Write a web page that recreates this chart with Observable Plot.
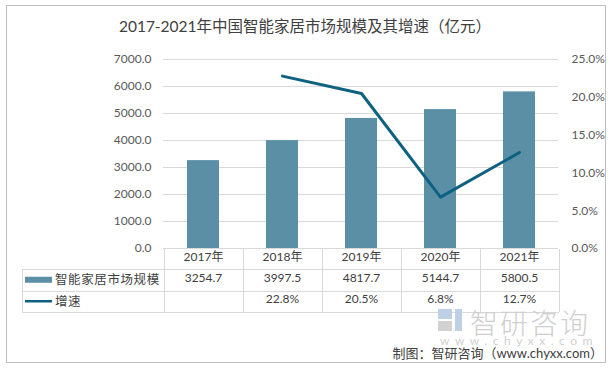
<!DOCTYPE html>
<html><head><meta charset="utf-8">
<script src="https://cdn.jsdelivr.net/npm/d3@7"></script>
<script src="https://cdn.jsdelivr.net/npm/@observablehq/plot@0.6"></script>
<style>
body{margin:0;background:#fff}
#wrap{position:relative;width:610px;height:369px;overflow:hidden;font-family:Lato,"Noto Sans CJK SC",sans-serif}
#frame{position:absolute;left:6px;top:5px;width:600px;height:358px;border:1px solid #bfbfbf;box-sizing:border-box}
#title{position:absolute;top:16px;left:0;width:610px;text-align:center;font-size:15.5px;color:#404040;line-height:20px}
#chart{position:absolute;left:0;top:0}
#wm{position:absolute;left:470px;top:309px;font-size:28px;color:#cfcfcf;font-family:"Noto Sans CJK SC",sans-serif;letter-spacing:2px;line-height:26px;font-weight:300}
#wmurl{position:absolute;left:440px;top:336px;font-size:12px;color:#d0d0d0;letter-spacing:5.5px;line-height:9px}
#logo1{position:absolute;left:438px;top:309px;width:14px;height:10px;background:#bdd0e6}
#logo2{position:absolute;left:438px;top:321px;width:14px;height:10px;background:#d2d2d2}
#logo3{position:absolute;left:455px;top:309px;width:7px;height:22px;background:#bdd0e6}
#caption{position:absolute;right:7px;top:346px;font-size:13px;color:#404040;line-height:14px}
</style>
</head><body>
<div id="wrap">
  <div id="frame"></div>
  <div id="title">2017-2021年中国智能家居市场规模及其增速（亿元）</div>
  <div id="chart"></div>
  <div id="logo1"></div><div id="logo2"></div><div id="logo3"></div>
  <div id="wm">智研咨询</div>
  <div id="wmurl">www.chyxx.com</div>
  <div id="caption">制图：智研咨询（www.chyxx.com）</div>
</div>
<script>
const years = ["2017年","2018年","2019年","2020年","2021年"];
const sizes = [3254.7, 3997.5, 4817.7, 5144.7, 5800.5];
const growth = [null, 22.8, 20.5, 6.8, 12.7];
const yTicks = [0,1000,2000,3000,4000,5000,6000,7000];
const pctTicks = [0,5,10,15,20,25];
const seriesNames = ["智能家居市场规模","增速"];

const rows = years.map((y,i)=>({year:y, size:sizes[i], growth:growth[i]}));
const k = 7000/25; // map percent onto left scale
const barColor = "#5b8fa6", lineColor = "#0e6180";
const txt = "#404040";

const chart = Plot.plot({
  width: 610, height: 369,
  marginTop: 59, marginBottom: 121, marginLeft: 163, marginRight: 52,
  style: {fontFamily: 'Lato,"Noto Sans CJK SC",sans-serif', background: "transparent", overflow: "visible"},
  x: {type: "band", domain: years, paddingInner: 0.6, paddingOuter: 0.3, axis: null},
  y: {domain: [0, 7000], axis: null},
  marks: [
    Plot.ruleY(yTicks, {stroke: "#d9d9d9", strokeWidth: 1}),
    Plot.barY(rows, {x: "year", y: "size", fill: barColor}),
    Plot.line(rows.filter(d => d.growth != null), {x: "year", y: d => d.growth * k, stroke: lineColor, strokeWidth: 3}),
    Plot.axisY(yTicks, {anchor: "left", tickSize: 0, tickPadding: 12, tickFormat: d3.format(".1f"), fontSize: 12, fill: "#595959", label: null}),
    Plot.axisY(pctTicks.map(p => p * k), {anchor: "right", tickSize: 0, tickPadding: 13, tickFormat: d => (d / k).toFixed(1) + "%", fontSize: 12, fill: "#595959", label: null}),
    Plot.text(rows, {x: "year", text: "year", frameAnchor: "bottom", dy: 12, fontSize: 12, fill: txt}),
    Plot.text(rows, {x: "year", text: d => d.size.toFixed(1), frameAnchor: "bottom", dy: 33, fontSize: 12, fill: txt}),
    Plot.text(rows.filter(d => d.growth != null), {x: "year", text: d => d.growth.toFixed(1) + "%", frameAnchor: "bottom", dy: 54, fontSize: 12, fill: txt})
  ]
});
document.getElementById("chart").appendChild(chart);

// table grid and legend column
const xs = chart.scale("x"), ys = chart.scale("y");
const bw = xs.bandwidth, step = xs.step;
const x0 = xs.apply(years[0]) + bw / 2 - step / 2;
const xEnd = x0 + years.length * step;
const yTop = ys.apply(0) + 0.5;
const r1 = yTop + 20.5, r2 = r1 + 21.5, r3 = r2 + 21.5;
const tLeft = 22;
const g = d3.select(chart).append("g").attr("stroke", "#d9d9d9").attr("stroke-width", 1).attr("shape-rendering", "crispEdges");
for (let i = 0; i <= years.length; i++) {
  const x = Math.round(x0 + i * step) + 0.5;
  g.append("line").attr("x1", x).attr("x2", x).attr("y1", yTop).attr("y2", r3);
}
g.append("line").attr("x1", tLeft + 0.5).attr("x2", tLeft + 0.5).attr("y1", r1).attr("y2", r3);
for (const yy of [r1, r2, r3]) {
  g.append("line").attr("x1", tLeft).attr("x2", xEnd).attr("y1", Math.round(yy) + 0.5).attr("y2", Math.round(yy) + 0.5);
}
const lg = d3.select(chart).append("g");
lg.append("rect").attr("x", 25).attr("y", (r1 + r2) / 2 - 3).attr("width", 27).attr("height", 6).attr("fill", barColor);
lg.append("line").attr("x1", 25).attr("x2", 52).attr("y1", (r2 + r3) / 2).attr("y2", (r2 + r3) / 2).attr("stroke", lineColor).attr("stroke-width", 2.5);
lg.selectAll("text").data(seriesNames).join("text")
  .attr("x", 55).attr("y", (d, i) => i === 0 ? (r1 + r2) / 2 : (r2 + r3) / 2)
  .attr("dy", "0.35em").attr("text-anchor", "start").attr("font-size", 12.5).attr("letter-spacing", 0.6).attr("fill", txt).text(d => d);
</script>
</body></html>
